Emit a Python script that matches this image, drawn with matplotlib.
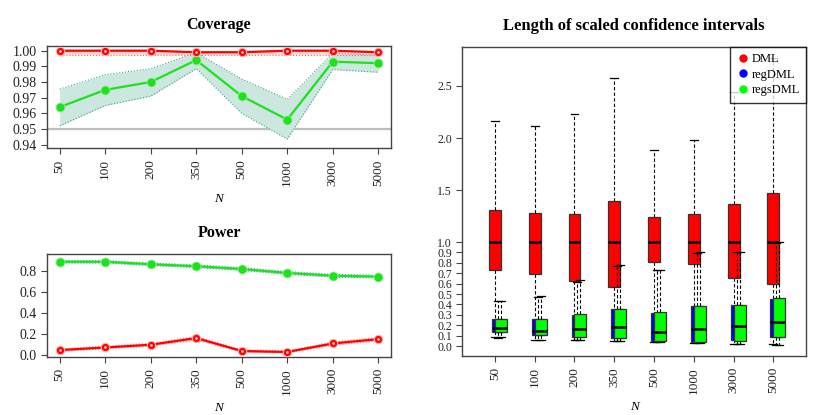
import matplotlib
matplotlib.use("Agg")
import matplotlib.pyplot as plt
from matplotlib.lines import Line2D

plt.rcParams['font.family'] = ['Liberation Serif', 'DejaVu Serif']

N_labels = ['50', '100', '200', '350', '500', '1000', '3000', '5000']

# Coverage
cov_dml = [1.000, 1.000, 1.000, 0.999, 0.999, 1.000, 1.000, 0.999]
cov_dml_lo = [0.9972, 0.9972, 0.9972, 0.9972, 0.9972, 0.9972, 0.9972, 0.9972]
cov_dml_hi = [1.000, 1.000, 1.000, 1.000, 1.000, 1.000, 1.000, 1.000]
cov_regs = [0.964, 0.975, 0.980, 0.994, 0.971, 0.956, 0.993, 0.992]
cov_regs_lo = [0.952, 0.965, 0.971, 0.9885, 0.960, 0.9436, 0.988, 0.9862]
cov_regs_hi = [0.9755, 0.9847, 0.9885, 0.9987, 0.9819, 0.969, 0.9983, 0.9971]

# Power
pow_dml = [0.047, 0.072, 0.098, 0.162, 0.038, 0.029, 0.110, 0.152]
pow_dml_lo = [0.035, 0.060, 0.085, 0.145, 0.028, 0.020, 0.095, 0.135]
pow_dml_hi = [0.060, 0.085, 0.112, 0.178, 0.050, 0.040, 0.125, 0.168]
pow_regs = [0.891, 0.891, 0.867, 0.848, 0.822, 0.784, 0.758, 0.749]
pow_regs_lo = [0.879, 0.879, 0.855, 0.835, 0.809, 0.771, 0.745, 0.736]
pow_regs_hi = [0.903, 0.903, 0.879, 0.861, 0.835, 0.797, 0.771, 0.762]

# Box statistics of scaled CI lengths
dml_wlo = [0.09, 0.06, 0.06, 0.05, 0.04, 0.03, 0.02, 0.015]
dml_q1 = [0.728, 0.689, 0.625, 0.570, 0.805, 0.785, 0.657, 0.596]
dml_med = [1.0, 1.0, 1.0, 1.0, 1.0, 1.0, 1.0, 1.0]
dml_q3 = [1.305, 1.279, 1.272, 1.394, 1.237, 1.266, 1.368, 1.474]
dml_whi = [2.16, 2.118, 2.234, 2.58, 1.88, 1.978, 2.44, 2.77]

reg_wlo = [0.080, 0.055, 0.055, 0.045, 0.038, 0.028, 0.018, 0.012]
reg_q1 = [0.138, 0.108, 0.085, 0.079, 0.048, 0.040, 0.054, 0.086]
reg_med = [0.172, 0.143, 0.167, 0.183, 0.138, 0.167, 0.195, 0.234]
reg_q3 = [0.258, 0.258, 0.300, 0.355, 0.320, 0.380, 0.390, 0.455]
reg_whi = [0.430, 0.470, 0.620, 0.770, 0.730, 0.890, 0.900, 0.990]

regs_wlo = [0.083, 0.058, 0.058, 0.048, 0.040, 0.030, 0.019, 0.013]
regs_q1 = [0.135, 0.103, 0.083, 0.077, 0.045, 0.038, 0.051, 0.084]
regs_med = [0.176, 0.147, 0.167, 0.183, 0.138, 0.167, 0.195, 0.234]
regs_q3 = [0.260, 0.260, 0.305, 0.359, 0.324, 0.385, 0.397, 0.459]
regs_whi = [0.435, 0.478, 0.630, 0.776, 0.734, 0.900, 0.907, 1.000]

RED = '#ff0000'
GREEN = '#1fe01f'
BLUE = '#0000ff'
SPINE = '#444444'

fig = plt.figure(figsize=(8.3, 4.15), dpi=100)
x = list(range(1, len(N_labels) + 1))


def style_axes(ax, ytick_size):
    for s in ax.spines.values():
        s.set_color(SPINE)
        s.set_linewidth(1.0)
    ax.tick_params(axis='both', direction='out', length=4, width=0.8, color=SPINE,
                   labelcolor='#222222')
    ax.tick_params(axis='y', labelsize=ytick_size)
    ax.tick_params(axis='x', labelsize=9.5, labelrotation=90, pad=4)
    ax.set_xticks(x)
    ax.set_xticklabels(N_labels)


def draw_band(ax, lo, hi, fill, edge, alpha=1.0):
    ax.fill_between(x, lo, hi, color=fill, alpha=alpha, lw=0, zorder=1)
    ax.plot(x, lo, ls=':', color=edge, lw=0.8, zorder=2)
    ax.plot(x, hi, ls=':', color=edge, lw=0.8, zorder=2)


def draw_line(ax, y, kind):
    if kind == 'red':
        ax.plot(x, y, color=RED, lw=1.6, zorder=4, marker='o', ms=6,
                mfc=RED, mec='#ffb0b0', mew=0.8)
        ax.plot(x, y, ls='none', marker='o', ms=2, mfc='#ffc8c8', mec='none', zorder=5)
    else:
        ax.plot(x, y, color=GREEN, lw=1.6, zorder=4, marker='o', ms=6.5,
                mfc=GREEN, mec='#9af09a', mew=0.6)


# ---- Coverage ----
ax1 = fig.add_axes([0.0566, 0.6427, 0.4145, 0.2465])
ax1.axhline(0.95, color='#bdbdbd', lw=1.6, zorder=1)
draw_band(ax1, cov_regs_lo, cov_regs_hi, '#cce6e0', '#3aaa88')
draw_band(ax1, cov_dml_lo, cov_dml_hi, '#ffd6d6', '#ff6060')
draw_line(ax1, cov_regs, 'green')
draw_line(ax1, cov_dml, 'red')
ax1.set_xlim(0.72, 8.28)
ax1.set_ylim(0.9377, 1.003)
ax1.set_yticks([0.94, 0.95, 0.96, 0.97, 0.98, 0.99, 1.00])
ax1.set_yticklabels(['0.94', '0.95', '0.96', '0.97', '0.98', '0.99', '1.00'])
style_axes(ax1, 10)
ax1.set_title('Coverage', fontsize=11.5, fontweight='bold', pad=12)
ax1.set_xlabel('N', fontsize=9.5, style='italic', labelpad=5)

# ---- Power ----
ax2 = fig.add_axes([0.0566, 0.1398, 0.4145, 0.2482])
draw_band(ax2, pow_regs_lo, pow_regs_hi, '#cce6e0', '#3aaa88')
draw_band(ax2, pow_dml_lo, pow_dml_hi, '#ffd6d6', '#ff8080')
draw_line(ax2, pow_regs, 'green')
draw_line(ax2, pow_dml, 'red')
ax2.set_xlim(0.72, 8.28)
ax2.set_ylim(-0.019, 0.965)
ax2.set_yticks([0.0, 0.2, 0.4, 0.6, 0.8])
ax2.set_yticklabels(['0.0', '0.2', '0.4', '0.6', '0.8'])
style_axes(ax2, 10)
ax2.set_title('Power', fontsize=11.5, fontweight='bold', pad=12)
ax2.set_xlabel('N', fontsize=9.5, style='italic', labelpad=5)

# ---- Boxplots ----
ax3 = fig.add_axes([0.557, 0.1422, 0.4141, 0.7453])


def stats(wlo, q1, med, q3, whi):
    return [dict(whislo=a, q1=b, med=c, q3=d, whishi=e)
            for a, b, c, d, e in zip(wlo, q1, med, q3, whi)]


width = 0.30
series = [
    (stats(dml_wlo, dml_q1, dml_med, dml_q3, dml_whi), 0.0, RED),
    (stats(reg_wlo, reg_q1, reg_med, reg_q3, reg_whi), 0.075, BLUE),
    (stats(regs_wlo, regs_q1, regs_med, regs_q3, regs_whi), 0.15, '#00ff00'),
]
for z, (st, off, col) in enumerate(series):
    ax3.bxp(st, positions=[p + off for p in x], widths=width, capwidths=0.2,
            patch_artist=True, showfliers=False, manage_ticks=False,
            boxprops=dict(facecolor=col, edgecolor='#333333', linewidth=0.9),
            whiskerprops=dict(color='black', linestyle=(0, (3, 2)), linewidth=0.8),
            capprops=dict(color='black', linewidth=0.9),
            medianprops=dict(color='black', linewidth=1.8),
            zorder=2 + z)

ax3.set_xlim(0.18, 8.82)
ax3.set_ylim(-0.096, 2.878)
yt = [0.0, 0.1, 0.2, 0.3, 0.4, 0.5, 0.6, 0.7, 0.8, 0.9, 1.0, 1.5, 2.0, 2.5]
ax3.set_yticks(yt)
ax3.set_yticklabels(['%.1f' % v for v in yt])
style_axes(ax3, 8.5)
ax3.set_title('Length of scaled confidence intervals', fontsize=12,
              fontweight='bold', pad=12)
ax3.set_xlabel('N', fontsize=9.5, style='italic', labelpad=5)

handles = [Line2D([], [], ls='none', marker='o', ms=5, color=c)
           for c in (RED, BLUE, '#00ff00')]
leg = ax3.legend(handles, ['DML', 'regDML', 'regsDML'], loc='upper right',
                 fontsize=9, frameon=True, fancybox=False, borderaxespad=0,
                 handletextpad=0.2, labelspacing=0.3, borderpad=0.5,
                 handlelength=1.0)
leg.get_frame().set_edgecolor('black')
leg.get_frame().set_linewidth(1.0)
leg.set_zorder(10)

fig.savefig('out.png', dpi=100)
